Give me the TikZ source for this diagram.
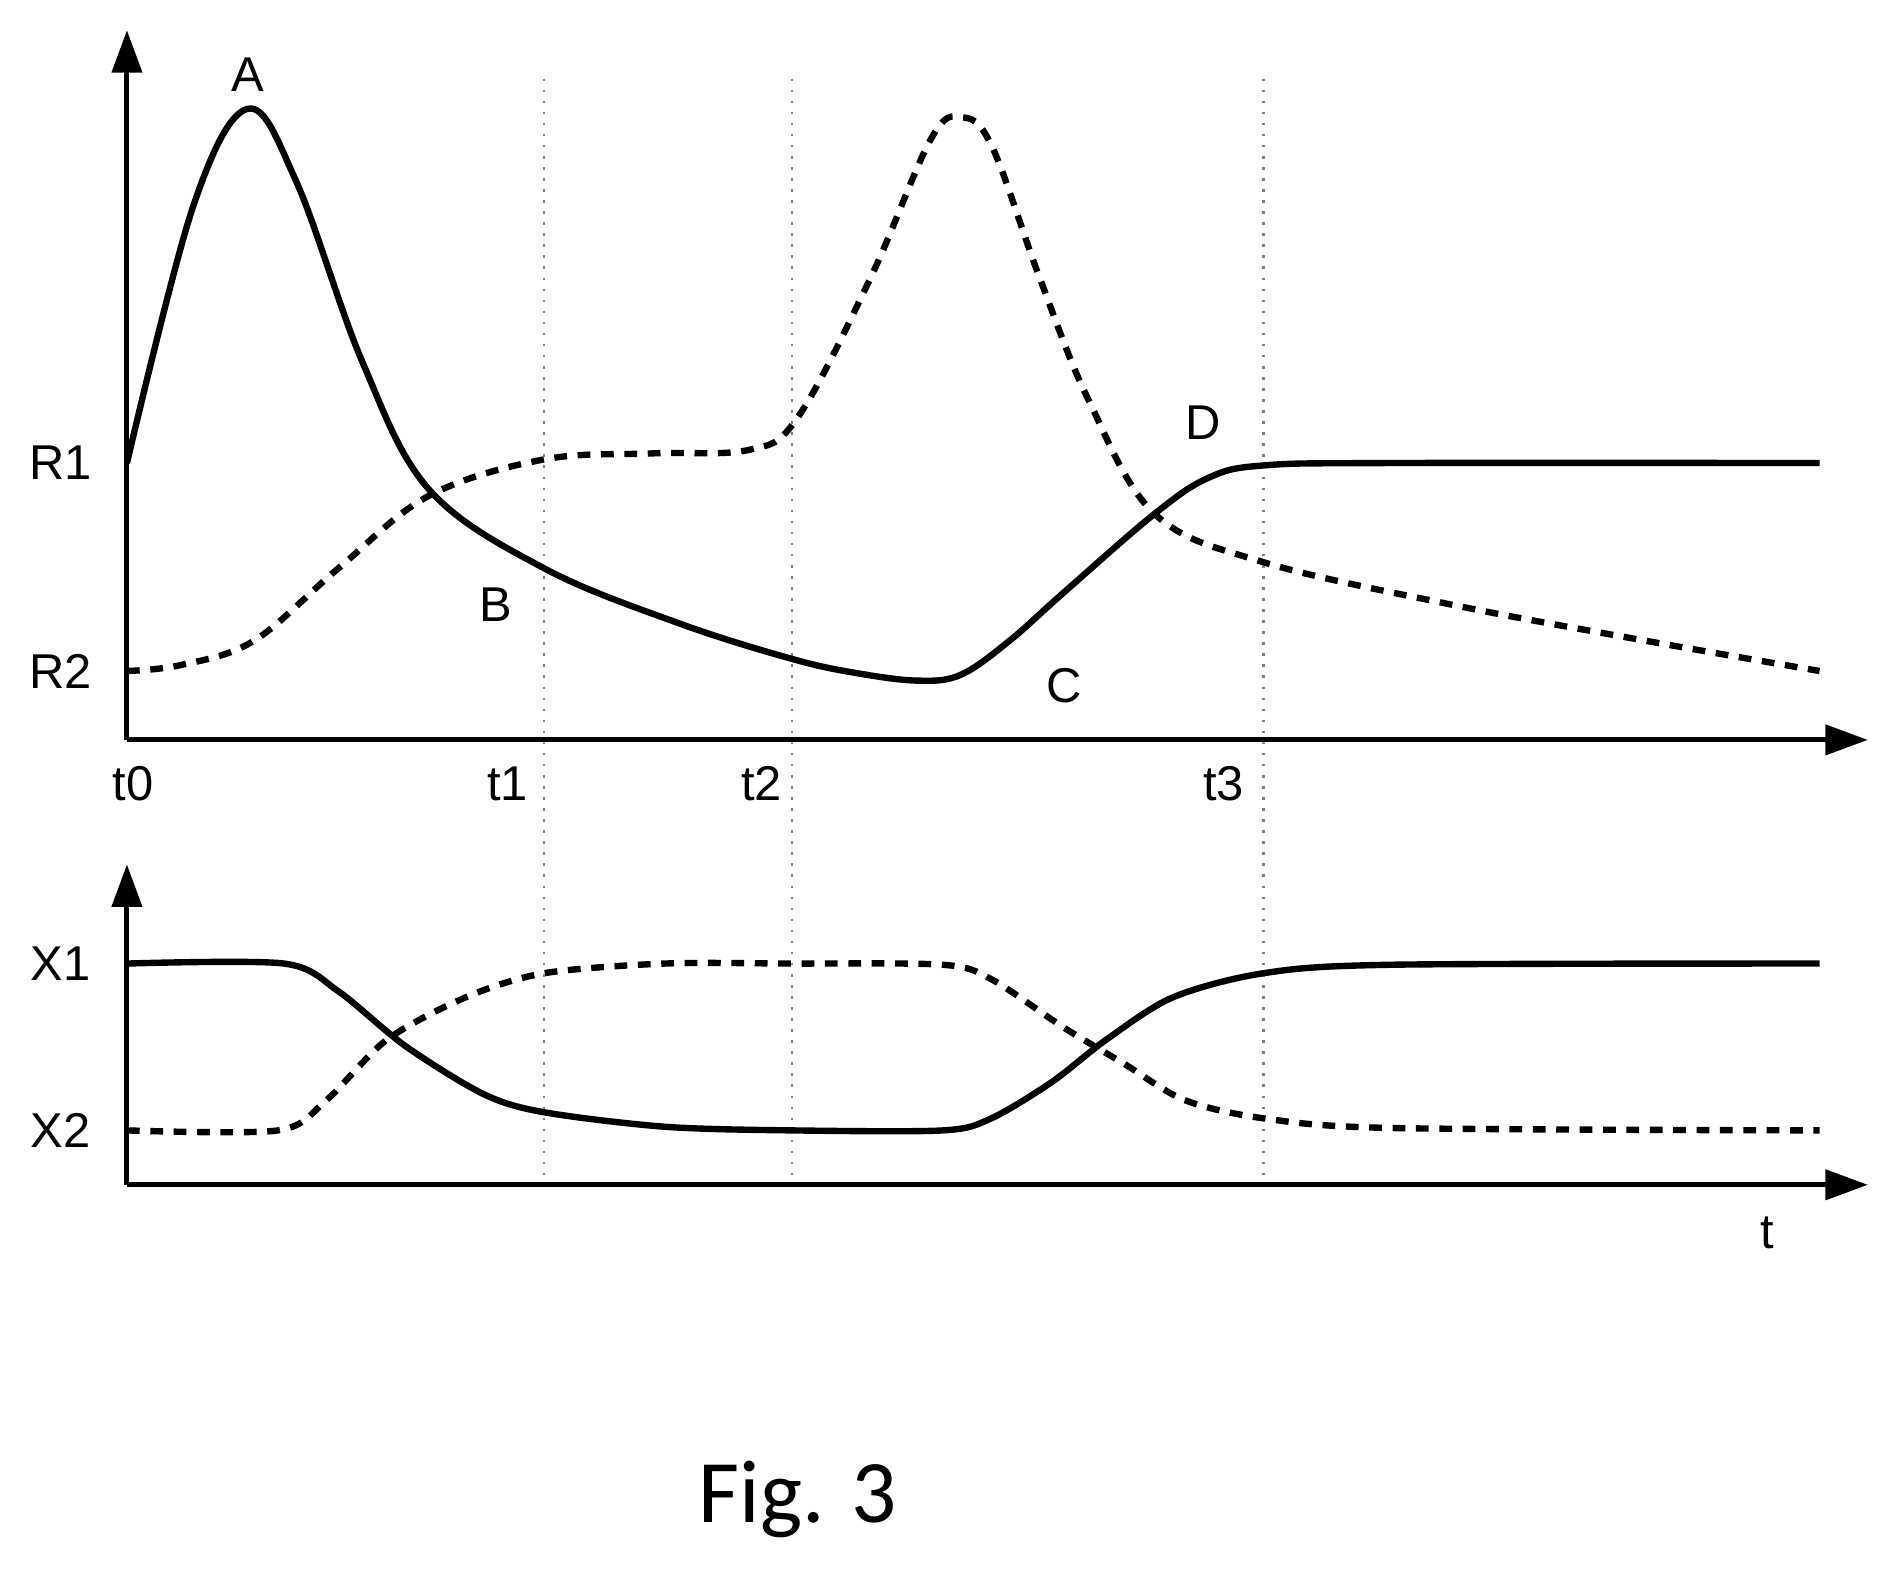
\documentclass[tikz,border=0pt]{standalone}
\usepackage{fontspec}
\setmainfont{Liberation Sans}
\newfontfamily\figfont{Carlito}
\usetikzlibrary{arrows.meta}
\begin{document}
\begin{tikzpicture}[x=0.01cm,y=-0.01cm,
  ax/.style={line width=1.2pt,-{Triangle[length=10pt,width=7pt]}},
  sol/.style={line width=1.5pt},
  dsh/.style={line width=1.5pt,dash pattern=on 3pt off 2.5pt},
  vl/.style={line width=0.6pt,dotted,gray},
  lab/.style={font=\fontsize{11.5}{13}\selectfont}]
\useasboundingbox (0,0) rectangle (1560,1297);
\foreach \x in {450,655,1045} \draw[vl] (\x,65) -- (\x,980);
\draw[ax] (105,612) -- (105,25);
\draw[ax] (105,612) -- (1545,612);
\draw[ax] (105,980) -- (105,715);
\draw[ax] (105,980) -- (1545,980);
\node[lab] (r1) at (50,383) {R1};
\node[lab] (r2) at (50,555) {R2};
\node[lab] (t0) at (110,648) {t0};
\node[lab] (t1) at (420,648) {t1};
\node[lab] (t2) at (630,648) {t2};
\node[lab] (t3) at (1012,648) {t3};
\node[lab] (x1) at (50,797) {X1};
\node[lab] (x2) at (50,935) {X2};
\node[lab] (t) at (1462,1020) {t};
\node[lab] (a) at (205,62) {A};
\node[lab] (b) at (410,500) {B};
\node[lab] (c) at (880,567) {C};
\node[lab] (d) at (995,350) {D};
\node[font=\figfont\fontsize{21}{25}\selectfont] (fig) at (660,1240) {Fig. 3};
\draw[sol] plot[smooth,tension=0.6] coordinates {(105,383) (160,170) (205,90) (245,150) (300,300) (355,405) (450,470) (560,515) (655,545) (710,557) (760,563) (795,558) (835,530) (880,490) (955,425) (1000,395) (1045,385) (1150,383) (1505,383)};
\draw[dsh] plot[smooth,tension=0.6] coordinates {(105,555) (150,550) (210,530) (280,470) (355,410) (450,380) (540,375) (620,372) (660,345) (720,230) (770,115) (795,97) (820,120) (860,230) (900,330) (955,425) (1045,465) (1200,500) (1350,528) (1505,555)};
\draw[sol] plot[smooth,tension=0.5] coordinates {(105,797) (235,797) (280,820) (335,865) (400,905) (450,920) (550,932) (655,935) (780,935) (820,925) (870,895) (915,860) (970,825) (1045,805) (1150,798) (1505,797)};
\draw[dsh] plot[smooth,tension=0.5] coordinates {(105,935) (230,935) (270,910) (320,860) (385,825) (450,805) (550,797) (655,797) (780,798) (820,810) (880,850) (930,880) (980,910) (1045,925) (1150,933) (1505,935)};
\end{tikzpicture}
\end{document}
